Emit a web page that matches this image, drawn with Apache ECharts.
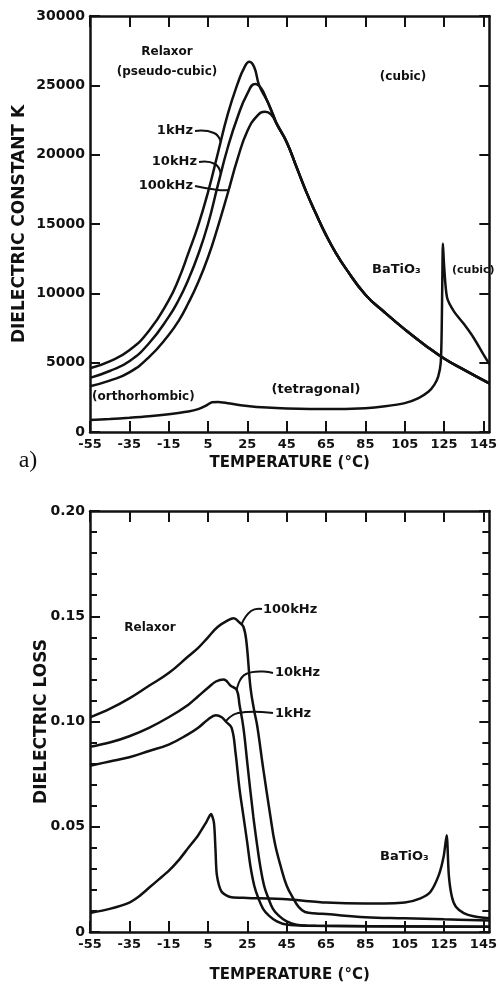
<!DOCTYPE html>
<html>
<head>
<meta charset="utf-8">
<script src="https://cdn.jsdelivr.net/npm/echarts@6/dist/echarts.min.js"></script>
<style>
html, body { margin: 0; padding: 0; background: #fff; }
#chart { width: 500px; height: 984px; }
</style>
</head>
<body>
<div id="chart"></div>
<script>
// temperature tick labels (both panels)
const tempTicks = [-55, -35, -15, 5, 25, 45, 65, 85, 105, 125, 145]

// a) dielectric constant K  [temperature, K]
const kTail = [[40, 22200], [45, 20900], [50, 19100], [55, 17300], [60, 15700], [65, 14200], [70, 12900],
  [75, 11800], [85, 9900], [95, 8600], [105, 7400], [115, 6300], [125, 5300], [135, 4500], [148, 3500]]
const k1kHz = [[-55, 4600], [-45, 5100], [-35, 5900], [-25, 7300], [-15, 9500], [-10, 11000], [-5, 12900],
  [0, 14900], [5, 17300], [10, 20100], [15, 22900], [20, 25100], [23.5, 26300], [26, 26700], [28.5, 26300],
  [31, 25000], [35, 23900], [38, 22900]]
const k10kHz = [[-55, 3900], [-45, 4400], [-35, 5100], [-25, 6400], [-15, 8300], [-10, 9500], [-5, 11000],
  [0, 12800], [5, 15000], [10, 17800], [15, 20500], [20, 22700], [25, 24400], [29, 25100], [32, 24800],
  [35, 23900], [38, 22900]]
const k100kHz = [[-55, 3300], [-45, 3700], [-35, 4300], [-25, 5400], [-15, 7000], [-10, 8000], [-5, 9300],
  [0, 10800], [5, 12600], [10, 14800], [15, 17200], [20, 19700], [25, 21700], [30, 22800], [34, 23100],
  [37, 22900]]
const kBaTiO3 = [[-55, 870], [-45, 930], [-35, 1020], [-25, 1130], [-15, 1280], [-5, 1480], [0, 1650],
  [4, 1900], [7, 2150], [10, 2170], [15, 2080], [25, 1880], [35, 1760], [45, 1700], [65, 1650], [85, 1720],
  [95, 1850], [105, 2080], [112, 2450], [117, 2900], [120, 3400], [122, 4000], [123.3, 5000], [123.8, 7500],
  [124.1, 11000], [124.4, 13600], [125, 12000], [126.5, 9700], [130, 8700], [135, 7800], [140, 6800],
  [145, 5600], [148, 4900]]

// b) dielectric loss  [temperature, tan d]
const loss1kHz = [[-55, 0.079], [-45, 0.081], [-35, 0.083], [-25, 0.086], [-15, 0.089], [-5, 0.094],
  [0, 0.097], [5, 0.101], [9, 0.103], [12, 0.102], [14, 0.1], [17, 0.097], [19, 0.085], [21, 0.068],
  [23, 0.055], [25, 0.042], [26.6, 0.031], [28.5, 0.022], [30.6, 0.016], [33, 0.011], [35.7, 0.008],
  [40, 0.005], [45, 0.0035], [55, 0.003], [148, 0.0025]]
const loss10kHz = [[-55, 0.088], [-45, 0.09], [-35, 0.093], [-25, 0.097], [-15, 0.102], [-5, 0.108],
  [0, 0.112], [5, 0.116], [9, 0.119], [13, 0.12], [16.5, 0.117], [19.6, 0.115], [21, 0.108], [23, 0.097],
  [25, 0.08], [28, 0.055], [30, 0.041], [31.6, 0.031], [33.5, 0.022], [35.7, 0.016], [38, 0.011],
  [40.7, 0.008], [45, 0.005], [50, 0.0035], [60, 0.003], [148, 0.0025]]
const loss100kHz = [[-55, 0.102], [-45, 0.106], [-35, 0.111], [-25, 0.117], [-15, 0.123], [-5, 0.131],
  [0, 0.135], [5, 0.14], [10, 0.145], [15, 0.148], [18, 0.149], [21, 0.147], [23, 0.145], [24.5, 0.138],
  [26.6, 0.116], [28.5, 0.105], [30, 0.098], [33, 0.078], [36.7, 0.055], [39, 0.042], [42, 0.031],
  [45, 0.022], [48.3, 0.016], [51, 0.012], [54.3, 0.0095], [60, 0.0088], [65, 0.0085], [85, 0.007],
  [105, 0.0065], [125, 0.006], [148, 0.0055]]
const lossBaTiO3 = [[-55, 0.009], [-45, 0.011], [-35, 0.014], [-30, 0.017], [-25, 0.021], [-20, 0.025],
  [-15, 0.029], [-10, 0.034], [-5, 0.04], [0, 0.046], [4, 0.052], [6.5, 0.056], [8, 0.052], [8.8, 0.039],
  [9.5, 0.027], [12, 0.019], [17, 0.0165], [25, 0.0162], [45, 0.0155], [65, 0.014], [85, 0.0135],
  [105, 0.014], [113, 0.016], [118, 0.019], [122.3, 0.027], [124.8, 0.036], [126.3, 0.046], [127.4, 0.027],
  [128.9, 0.017], [131, 0.012], [135, 0.009], [140, 0.0075], [148, 0.0065]]

const INK = '#111'
const FONT = "'DejaVu Sans', sans-serif"

function xAxes(gridIndex, nameGap) {
  const common = {
    type: 'value', gridIndex: gridIndex, min: -55, max: 148,
    axisLine: { onZero: false, lineStyle: { color: INK, width: 2.5 } },
    axisTick: { inside: true, length: 11, customValues: tempTicks, lineStyle: { color: INK, width: 2 } },
    splitLine: { show: false }
  }
  return [
    Object.assign({}, common, {
      position: 'bottom',
      axisLabel: { customValues: tempTicks, color: INK, fontSize: 13, fontWeight: 'bold', fontFamily: FONT, margin: 6 },
      name: 'TEMPERATURE (°C)', nameLocation: 'middle', nameGap: nameGap, nameMoveOverlap: false,
      nameTextStyle: { color: INK, fontSize: 15, fontWeight: 'bold', fontFamily: FONT }
    }),
    Object.assign({}, common, { position: 'top', axisLabel: { show: false } })
  ]
}

function yAxes(gridIndex, opts) {
  const common = {
    type: 'value', gridIndex: gridIndex, min: 0, max: opts.max, interval: opts.interval,
    axisLine: { onZero: false, lineStyle: { color: INK, width: 2.5 } },
    axisTick: { inside: true, length: 10, lineStyle: { color: INK, width: 2 } },
    minorTick: opts.minor ? { show: true, splitNumber: 5, length: 7, lineStyle: { color: INK, width: 2 } } : { show: false },
    splitLine: { show: false }
  }
  return [
    Object.assign({}, common, {
      position: 'left',
      axisLabel: { color: INK, fontSize: 14, fontWeight: 'bold', fontFamily: FONT, margin: 5, formatter: opts.fmt },
      name: opts.name, nameLocation: 'middle', nameGap: opts.nameGap, nameRotate: 90, nameMoveOverlap: false,
      nameTextStyle: { color: INK, fontSize: 17, fontWeight: 'bold', fontFamily: FONT }
    }),
    Object.assign({}, common, { position: 'right', axisLabel: { show: false } })
  ]
}

function curve(data, xi, yi, smooth) {
  return {
    type: 'line', data: data, xAxisIndex: xi, yAxisIndex: yi,
    showSymbol: false, smooth: smooth, silent: true,
    lineStyle: { color: INK, width: 2.5 }
  }
}

const option = {
  backgroundColor: '#fff',
  animation: false,
  grid: [
    { left: 90, top: 16, width: 403, height: 416 },
    { left: 90, top: 511, width: 403, height: 426 }
  ],
  xAxis: xAxes(0, 24).concat(xAxes(1, 36)),
  yAxis: yAxes(0, {
    max: 30000, interval: 5000, name: 'DIELECTRIC CONSTANT K', nameGap: 62,
    fmt: function (v) { return String(v) }
  }).concat(yAxes(1, {
    max: 0.2, interval: 0.05, minor: true, name: 'DIELECTRIC LOSS', nameGap: 40,
    fmt: function (v) { return v === 0 ? '0' : v.toFixed(2) }
  })),
  series: [
    curve(k1kHz.concat(kTail), 0, 0, 0.5),
    curve(k10kHz.concat(kTail), 0, 0, 0.5),
    curve(k100kHz.concat(kTail), 0, 0, 0.5),
    curve(kBaTiO3, 0, 0, 0.25),
    curve(loss1kHz, 2, 2, 0.4),
    curve(loss10kHz, 2, 2, 0.4),
    curve(loss100kHz, 2, 2, 0.4),
    curve(lossBaTiO3, 2, 2, 0.25)
  ]
}

const chart = echarts.init(document.getElementById('chart'))
chart.setOption(option)

function label(text, x, y, size, align) {
  return {
    type: 'text', x: x, y: y, silent: true,
    style: { text: text, fill: INK, font: 'bold ' + size + 'px ' + FONT, textAlign: align || 'left', textVerticalAlign: 'middle' }
  }
}
// hook from a label to a point on a curve given in data coordinates
function hook(axisIndex, start, bend, target) {
  const p = chart.convertToPixel({ xAxisIndex: axisIndex, yAxisIndex: axisIndex }, target)
  return {
    type: 'polyline', silent: true,
    shape: { points: [start, bend, p], smooth: 0.5 },
    style: { stroke: INK, lineWidth: 2, fill: null }
  }
}

chart.setOption({
  graphic: [
    label('Relaxor', 167, 52, 12, 'center'),
    label('(pseudo-cubic)', 167, 72, 12, 'center'),
    label('(cubic)', 403, 77, 12, 'center'),
    label('1kHz', 193, 131, 13, 'right'),
    label('10kHz', 197, 162, 13, 'right'),
    label('100kHz', 193, 186, 13, 'right'),
    hook(0, [195, 131], [214, 133], [11.5, 20940]),
    hook(0, [199, 162], [215, 164], [11.5, 18610]),
    hook(0, [195, 186], [218, 190], [15.5, 17450]),
    label('BaTiO₃', 372, 270, 13, 'left'),
    label('(cubic)', 452, 270, 11, 'left'),
    label('(tetragonal)', 316, 390, 13, 'center'),
    label('(orthorhombic)', 92, 397, 12, 'left'),
    {
      type: 'text', x: 28, y: 461, silent: true,
      style: { text: 'a)', fill: INK, font: '24px "Liberation Serif", serif', textAlign: 'center', textVerticalAlign: 'middle' }
    },
    label('Relaxor', 150, 628, 12, 'center'),
    label('100kHz', 263, 610, 13, 'left'),
    label('10kHz', 275, 673, 13, 'left'),
    label('1kHz', 275, 714, 13, 'left'),
    hook(2, [262, 609], [251, 611], [22, 0.146]),
    hook(2, [273, 673], [246, 674], [19.6, 0.115]),
    hook(2, [273, 713], [238, 713], [14, 0.1]),
    label('BaTiO₃', 380, 857, 13, 'left')
  ]
})
</script>
</body>
</html>
